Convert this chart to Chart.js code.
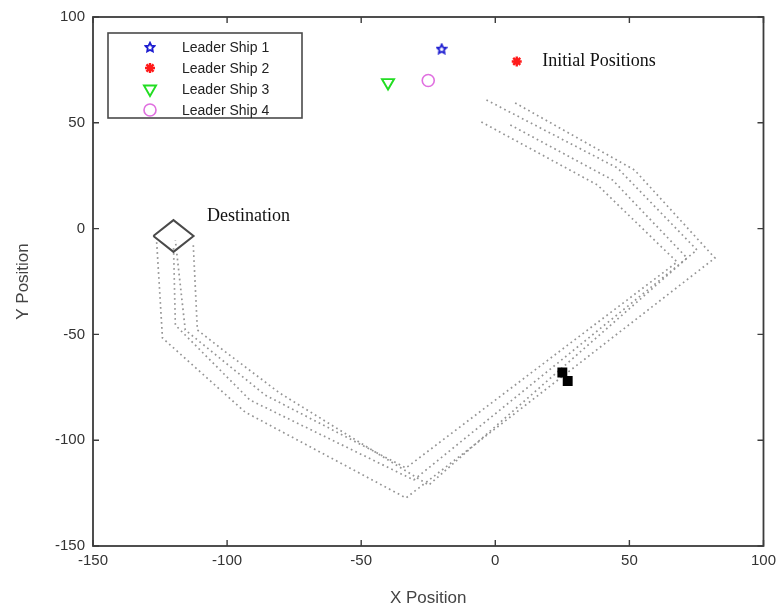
<!DOCTYPE html>
<html>
<head>
<meta charset="utf-8">
<script src="https://cdn.jsdelivr.net/npm/chart.js@4.4.0/dist/chart.umd.min.js"></script>
<style>
  html, body { margin: 0; padding: 0; background: #fff; }
  #wrap { width: 782px; height: 611px; }
</style>
</head>
<body>
<div id="wrap"><canvas id="chart"></canvas></div>
<script>
// axis ticks (same for both axes)
const axisTicks = [-150, -100, -50, 0, 50, 100];

// leader ships, initial positions
const shipNames = ['Leader Ship 1', 'Leader Ship 2', 'Leader Ship 3', 'Leader Ship 4'];
const shipX = [-20, 8, -40, -25];
const shipY = [85, 79, 69, 70];
const shipColors = ['#1c1cd0', '#ff1a1a', '#22dd22', '#e070e0'];

// dotted trajectories
const pathAX = [7.4, 51.9, 81.9, -33.3, -93.3, -124.1, -126.3];
const pathAY = [59.4, 27.7, -13.9, -127.3, -86.7, -51.7, -5.4];
const pathBX = [-3.3, 45.6, 75.2, -30.4, -91.5, -119.3, -120];
const pathBY = [60.8, 28.6, -10.1, -118.8, -81, -45.6, -7.7];
const pathCX = [5.6, 43.7, 71.5, -24.8, -80.4, -101.5, -111.1, -112.6];
const pathCY = [49, 23, -13.9, -121.2, -77.7, -57.4, -47.9, -7.7];
const pathDX = [-5.2, 38.1, 67.8, -33.3, -85.9, -115.6, -119.3];
const pathDY = [50.4, 20.6, -15.8, -113.1, -78.6, -47.9, -5.4];

// destination diamond outline
const destX = [-127.5, -120, -112.5, -120, -127.5];
const destY = [-3.5, 4, -3.5, -11, -3.5];

// black square markers
const markX = [25, 27];
const markY = [-68, -72];

// text notes
const noteText = ['Initial Positions', 'Destination'];
const noteX = [17.5, -107.5];
const noteY = [79, 6];

const zip = (xs, ys) => xs.map((x, i) => ({ x: x, y: ys[i] }));

// 5 point star outline as an image for pointStyle
function makeStar(color, size) {
    const c = document.createElement('canvas');
    c.width = size;
    c.height = size;
    const g = c.getContext('2d');
    g.strokeStyle = color;
    g.lineWidth = 1.8;
    g.beginPath();
    const cx = size / 2, cy = size / 2 + 0.5;
    const ro = size / 2 - 1.2, ri = ro * 0.5;
    for (let i = 0; i < 10; i++) {
        const r = i % 2 ? ri : ro;
        const a = -Math.PI / 2 + i * Math.PI / 5;
        const px = cx + r * Math.cos(a), py = cy + r * Math.sin(a);
        if (i === 0) g.moveTo(px, py); else g.lineTo(px, py);
    }
    g.closePath();
    g.stroke();
    return c;
}

const starImg = makeStar(shipColors[0], 12);

const shipStyles = [
    { pointStyle: starImg, radius: 6, rotation: 0, borderWidth: 1.5 },
    { pointStyle: 'star', radius: 5, rotation: 0, borderWidth: 2.4 },
    { pointStyle: 'triangle', radius: 7, rotation: 180, borderWidth: 1.9 },
    { pointStyle: 'circle', radius: 6, rotation: 0, borderWidth: 1.6 }
];

const pathStyle = {
    type: 'line',
    showLine: true,
    pointRadius: 0,
    borderColor: '#959595',
    borderWidth: 1.7,
    borderDash: [1.7, 3.3],
    fill: false,
    tension: 0,
    order: 10
};

const datasets = [
    Object.assign({ data: zip(pathAX, pathAY) }, pathStyle),
    Object.assign({ data: zip(pathBX, pathBY) }, pathStyle),
    Object.assign({ data: zip(pathCX, pathCY) }, pathStyle),
    Object.assign({ data: zip(pathDX, pathDY) }, pathStyle),
    {
        type: 'line',
        data: zip(destX, destY),
        showLine: true,
        pointRadius: 0,
        borderColor: '#4a4a4a',
        borderWidth: 2,
        fill: false,
        tension: 0,
        order: 5
    },
    {
        data: zip(markX, markY),
        pointStyle: 'rect',
        pointRadius: 7,
        backgroundColor: '#000',
        borderWidth: 0,
        order: 0
    }
];

shipNames.forEach((name, i) => {
    datasets.push({
        label: name,
        data: [{ x: shipX[i], y: shipY[i] }],
        pointStyle: shipStyles[i].pointStyle,
        pointRadius: shipStyles[i].radius,
        rotation: shipStyles[i].rotation,
        borderColor: shipColors[i],
        backgroundColor: 'rgba(0,0,0,0)',
        borderWidth: shipStyles[i].borderWidth,
        order: 1
    });
});

const frameColor = '#3c3c3c';

// box, inward ticks, notes and the legend
const decorPlugin = {
    id: 'decor',
    afterDatasetsDraw(chart) {
        const ctx = chart.ctx;
        const a = chart.chartArea;
        const xs = chart.scales.x, ys = chart.scales.y;

        ctx.save();
        // notes
        ctx.fillStyle = '#111';
        ctx.font = '18px "Liberation Serif", "Times New Roman", serif';
        ctx.textBaseline = 'middle';
        ctx.textAlign = 'left';
        noteText.forEach((t, i) => {
            ctx.fillText(t, xs.getPixelForValue(noteX[i]), ys.getPixelForValue(noteY[i]));
        });

        // frame
        ctx.strokeStyle = frameColor;
        ctx.lineWidth = 1.8;
        ctx.strokeRect(a.left, a.top, a.right - a.left, a.bottom - a.top);

        // inward ticks
        const tl = 6;
        ctx.lineWidth = 1.4;
        ctx.beginPath();
        axisTicks.forEach(v => {
            const px = xs.getPixelForValue(v);
            ctx.moveTo(px, a.bottom); ctx.lineTo(px, a.bottom - tl);
            ctx.moveTo(px, a.top); ctx.lineTo(px, a.top + tl);
            const py = ys.getPixelForValue(v);
            ctx.moveTo(a.left, py); ctx.lineTo(a.left + tl, py);
            ctx.moveTo(a.right, py); ctx.lineTo(a.right - tl, py);
        });
        ctx.stroke();

        // legend box
        const bx = a.left + 15, by = a.top + 16, bw = 194, bh = 85;
        ctx.fillStyle = '#fff';
        ctx.fillRect(bx, by, bw, bh);
        ctx.strokeStyle = '#4a4a4a';
        ctx.lineWidth = 1.6;
        ctx.strokeRect(bx, by, bw, bh);

        ctx.font = '14px "Liberation Sans", Arial, sans-serif';
        ctx.textAlign = 'left';
        ctx.textBaseline = 'middle';
        shipNames.forEach((name, i) => {
            const ry = by + 14 + i * 21;
            const mx = bx + 42;
            ctx.strokeStyle = shipColors[i];
            ctx.fillStyle = 'rgba(0,0,0,0)';
            ctx.lineWidth = shipStyles[i].borderWidth;
            Chart.helpers.drawPoint(ctx, {
                pointStyle: shipStyles[i].pointStyle,
                radius: shipStyles[i].radius,
                rotation: shipStyles[i].rotation,
                borderWidth: shipStyles[i].borderWidth
            }, mx, ry);
            ctx.fillStyle = '#222';
            ctx.fillText(name, bx + 74, ry + 1);
        });
        ctx.restore();
    }
};

const tickFont = { family: '"Liberation Sans", Arial, sans-serif', size: 15 };
const titleFont = { family: '"Liberation Sans", Arial, sans-serif', size: 17 };

new Chart(document.getElementById('chart'), {
    type: 'scatter',
    data: { datasets: datasets },
    options: {
        responsive: true,
        maintainAspectRatio: false,
        animation: false,
        layout: { padding: { top: 17, right: 15, left: 0, bottom: 0 } },
        plugins: {
            legend: { display: false },
            tooltip: { enabled: false }
        },
        scales: {
            x: {
                type: 'linear',
                min: -150,
                max: 100,
                afterBuildTicks: s => { s.ticks = axisTicks.map(v => ({ value: v })); },
                afterFit: s => { s.height = 65; },
                grid: { display: true, drawOnChartArea: false, drawTicks: false },
                border: { display: false },
                ticks: { color: '#333', font: tickFont, padding: 6, maxRotation: 0 },
                title: { display: true, text: 'X Position', color: '#444', font: titleFont, padding: { top: 0, bottom: 2 } }
            },
            y: {
                type: 'linear',
                min: -150,
                max: 100,
                afterBuildTicks: s => { s.ticks = axisTicks.map(v => ({ value: v })); },
                afterFit: s => { s.width = 93; },
                grid: { display: true, drawOnChartArea: false, drawTicks: false },
                border: { display: false },
                ticks: { color: '#333', font: tickFont, padding: 8 },
                title: { display: true, text: 'Y Position', color: '#444', font: titleFont, padding: { top: 13, bottom: 0 } }
            }
        }
    },
    plugins: [decorPlugin]
});
</script>
</body>
</html>
